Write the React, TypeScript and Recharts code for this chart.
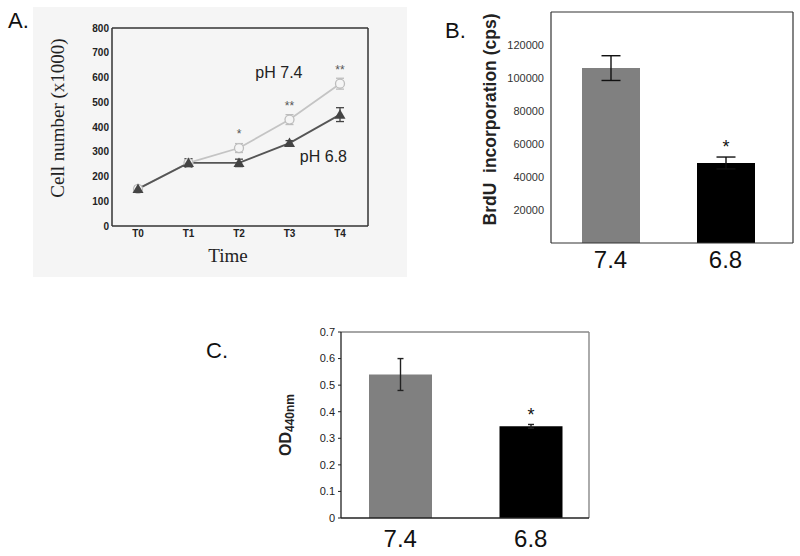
import {
  LineChart,
  Line,
  BarChart,
  Bar,
  XAxis,
  YAxis,
  ErrorBar,
  LabelList,
  Cell,
  ReferenceDot,
  CartesianGrid,
} from "recharts";

// ── Panel A: cell number over time ──────────────────────────────────────
const timePoints = ["T0", "T1", "T2", "T3", "T4"];
const cellsPh74 = [150, 255, 315, 430, 575];
const cellsPh74Err = [8, 15, 18, 20, 22];
const cellsPh68 = [150, 255, 255, 335, 450];
const cellsPh68Err = [10, 17, 15, 10, 28];
const cellsSig = ["", "", "*", "**", "**"];
const cellTicks = [0, 100, 200, 300, 400, 500, 600, 700, 800];

// ── Panels B and C: pH groups ───────────────────────────────────────────
const phGroups = ["7.4", "6.8"];
const barColors = ["#808080", "#000000"];
const brduMean = [106000, 48500];
const brduErr = [7500, 3600];
const brduSig = ["", "*"];
const brduTicks = [20000, 40000, 60000, 80000, 100000, 120000];

const odMean = [0.54, 0.345];
const odErr = [0.06, 0.007];
const odSig = ["", "*"];
const odTicks = [0, 0.1, 0.2, 0.3, 0.4, 0.5, 0.6, 0.7];

const cellData = timePoints.map((t, i) => ({
  t,
  ph74: cellsPh74[i],
  ph74Err: cellsPh74Err[i],
  ph68: cellsPh68[i],
  ph68Err: cellsPh68Err[i],
  sig: cellsSig[i],
}));

const brduData = phGroups.map((g, i) => ({ g, v: brduMean[i], err: brduErr[i], sig: brduSig[i] }));
const odData = phGroups.map((g, i) => ({ g, v: odMean[i], err: odErr[i], sig: odSig[i] }));

const SANS = "'Liberation Sans', Arial, sans-serif";
const SERIF = "'Liberation Serif', 'Times New Roman', serif";

// top + right edges of the plot box, drawn as grid lines
const topEdge = ({ offset }: any) => [offset.top];
const rightEdge = ({ offset }: any) => [offset.left + offset.width];

// axis title centred on the axis box, nudged by dx/dy
const axisTitle =
  (text: string, dx: number, dy: number, style: any, angle = 0) =>
  (p: any) => {
    const vb = p.viewBox;
    const x = vb.x + vb.width / 2 + dx;
    const y = vb.y + vb.height / 2 + dy;
    return (
      <text
        x={x}
        y={y}
        textAnchor="middle"
        dominantBaseline="central"
        transform={angle ? `rotate(${angle}, ${x}, ${y})` : undefined}
        style={style}
      >
        {text}
      </text>
    );
  };

const noteLabel = (text: string, dx: number) => (p: any) => {
  const vb = p.viewBox;
  return (
    <text
      x={vb.x + dx}
      y={vb.y}
      textAnchor="end"
      dominantBaseline="central"
      fontFamily={SANS}
      fontSize={16}
      fill="#222"
    >
      {text}
    </text>
  );
};

const Triangle = (props: any) => {
  const { cx, cy, index } = props;
  if (cx == null || cy == null) return <g key={`tri-${index}`} />;
  return (
    <path
      key={`tri-${index}`}
      d={`M${cx},${cy - 5.5} L${cx + 5.5},${cy + 4} L${cx - 5.5},${cy + 4} Z`}
      fill="#444"
    />
  );
};

const panelLetter = (text: string, left: number, top: number) => (
  <div
    style={{
      position: "absolute",
      left,
      top,
      fontFamily: SANS,
      fontSize: 22,
      lineHeight: "22px",
      color: "#111",
    }}
  >
    {text}
  </div>
);

function CellGrowth() {
  const frame = { stroke: "#333", strokeWidth: 1.5 };
  return (
    <div style={{ position: "absolute", left: 33, top: 7, background: "#f5f5f5" }}>
      <LineChart
        width={374}
        height={270}
        data={cellData}
        margin={{ top: 21, right: 39, bottom: 21, left: 39 }}
      >
        <CartesianGrid
          stroke="#333"
          strokeWidth={1.5}
          horizontalCoordinatesGenerator={topEdge}
          verticalCoordinatesGenerator={rightEdge}
        />
        <XAxis
          dataKey="t"
          padding={{ left: 26, right: 28 }}
          tickLine={false}
          axisLine={frame}
          tickSize={0}
          tickMargin={4}
          tick={{ fontSize: 10, fontWeight: "bold", fill: "#222", fontFamily: SANS }}
          height={30}
          label={{
            content: axisTitle("Time", -12, 14, { fontFamily: SERIF, fontSize: 19, fill: "#222" }),
          }}
        />
        <YAxis
          domain={[0, 800]}
          ticks={cellTicks}
          width={40}
          tickLine={false}
          tickSize={0}
          tickMargin={3}
          axisLine={frame}
          tick={{ fontSize: 10, fontWeight: "bold", fill: "#222", fontFamily: SANS }}
          label={{
            content: axisTitle(
              "Cell number (x1000)",
              -35,
              -9,
              { fontFamily: SERIF, fontSize: 19, fill: "#222" },
              -90
            ),
          }}
        />
        <Line
          dataKey="ph74"
          stroke="#c4c4c4"
          strokeWidth={1.8}
          isAnimationActive={false}
          dot={{ r: 4.5, fill: "#f5f5f5", stroke: "#bdbdbd", strokeWidth: 1.3 }}
        >
          <ErrorBar dataKey="ph74Err" width={4} stroke="#bdbdbd" strokeWidth={1.3} direction="y" />
          <LabelList dataKey="sig" position="top" offset={10} fill="#555" fontSize={12} fontFamily={SANS} />
        </Line>
        <Line
          dataKey="ph68"
          stroke="#555"
          strokeWidth={1.8}
          isAnimationActive={false}
          dot={(p: any) => <Triangle {...p} key={`tri-${p.index}`} />}
        >
          <ErrorBar dataKey="ph68Err" width={4} stroke="#444" strokeWidth={1.3} direction="y" />
        </Line>
        <ReferenceDot x="T3" y={622} r={0} fill="none" stroke="none" label={{ content: noteLabel("pH 7.4", 13) }} />
        <ReferenceDot x="T4" y={279} r={0} fill="none" stroke="none" label={{ content: noteLabel("pH 6.8", 7) }} />
      </LineChart>
    </div>
  );
}

function BrduChart() {
  const frame = { stroke: "#333", strokeWidth: 1.2 };
  return (
    <div style={{ position: "absolute", left: 400, top: 0 }}>
      <BarChart
        width={400}
        height={290}
        data={brduData}
        margin={{ top: 12, right: 7, bottom: 7, left: 91 }}
      >
        <CartesianGrid
          stroke="#333"
          strokeWidth={1.2}
          horizontalCoordinatesGenerator={topEdge}
          verticalCoordinatesGenerator={rightEdge}
        />
        <XAxis
          dataKey="g"
          padding={{ left: 2, right: 10 }}
          tickLine={false}
          tickSize={0}
          tickMargin={8}
          axisLine={frame}
          height={40}
          tick={{ fontSize: 24, fill: "#111", fontFamily: SANS }}
        />
        <YAxis
          domain={[0, 140000]}
          ticks={brduTicks}
          width={60}
          tickLine={false}
          tickSize={0}
          tickMargin={7}
          axisLine={frame}
          tick={{ fontSize: 11, fill: "#333", fontFamily: SANS }}
          label={{
            content: axisTitle(
              "BrdU  incorporation (cps)",
              -31,
              -8,
              { fontFamily: SANS, fontSize: 17.5, fontWeight: "bold", fill: "#222", whiteSpace: "pre" },
              -90
            ),
          }}
        />
        <Bar dataKey="v" barSize={58} isAnimationActive={false}>
          {brduData.map((d, i) => (
            <Cell key={d.g} fill={barColors[i]} />
          ))}
          <ErrorBar dataKey="err" width={9.5} stroke="#111" strokeWidth={1.4} direction="y" />
          <LabelList dataKey="sig" position="top" offset={10} fill="#111" fontSize={18} fontFamily={SANS} />
        </Bar>
      </BarChart>
    </div>
  );
}

function OdChart() {
  const dark = { stroke: "#222", strokeWidth: 1.3 };
  return (
    <div style={{ position: "absolute", left: 180, top: 290 }}>
      <BarChart
        width={440}
        height={266}
        data={odData}
        margin={{ top: 42, right: 31, bottom: 4, left: 111 }}
      >
        <CartesianGrid
          stroke="#888"
          strokeWidth={1.4}
          horizontalCoordinatesGenerator={topEdge}
          verticalCoordinatesGenerator={rightEdge}
        />
        <XAxis
          dataKey="g"
          padding={{ left: -6, right: -7 }}
          tickLine={false}
          tickSize={0}
          tickMargin={12}
          axisLine={dark}
          height={34}
          tick={{ fontSize: 24, fill: "#111", fontFamily: SANS }}
        />
        <YAxis
          domain={[0, 0.7]}
          ticks={odTicks}
          width={50}
          tickSize={3}
          tickMargin={3}
          tickLine={{ stroke: "#222" }}
          axisLine={dark}
          tick={{ fontSize: 11, fill: "#222", fontFamily: SANS }}
          label={{
            content: (p: any) => {
              const vb = p.viewBox;
              const x = vb.x + vb.width / 2 - 31;
              const y = vb.y + vb.height / 2;
              return (
                <text
                  x={x}
                  y={y}
                  textAnchor="middle"
                  dominantBaseline="central"
                  transform={`rotate(-90, ${x}, ${y})`}
                  fontFamily={SANS}
                  fontWeight="bold"
                  fill="#222"
                  fontSize={16}
                >
                  OD
                  <tspan fontSize={12} dy={5}>
                    440nm
                  </tspan>
                </text>
              );
            },
          }}
        />
        <Bar dataKey="v" barSize={63} isAnimationActive={false}>
          {odData.map((d, i) => (
            <Cell key={d.g} fill={barColors[i]} />
          ))}
          <ErrorBar dataKey="err" width={3} stroke="#222" strokeWidth={1.4} direction="y" />
          <LabelList dataKey="sig" position="top" offset={5} fill="#111" fontSize={18} fontFamily={SANS} />
        </Bar>
      </BarChart>
    </div>
  );
}

export default function App() {
  return (
    <div
      style={{
        position: "absolute",
        left: 0,
        top: 0,
        width: 800,
        height: 556,
        background: "#fff",
        overflow: "hidden",
      }}
    >
      <CellGrowth />
      <BrduChart />
      <OdChart />
      {panelLetter("A.", 8, 10)}
      {panelLetter("B.", 445, 20)}
      {panelLetter("C.", 206, 340)}
    </div>
  );
}
